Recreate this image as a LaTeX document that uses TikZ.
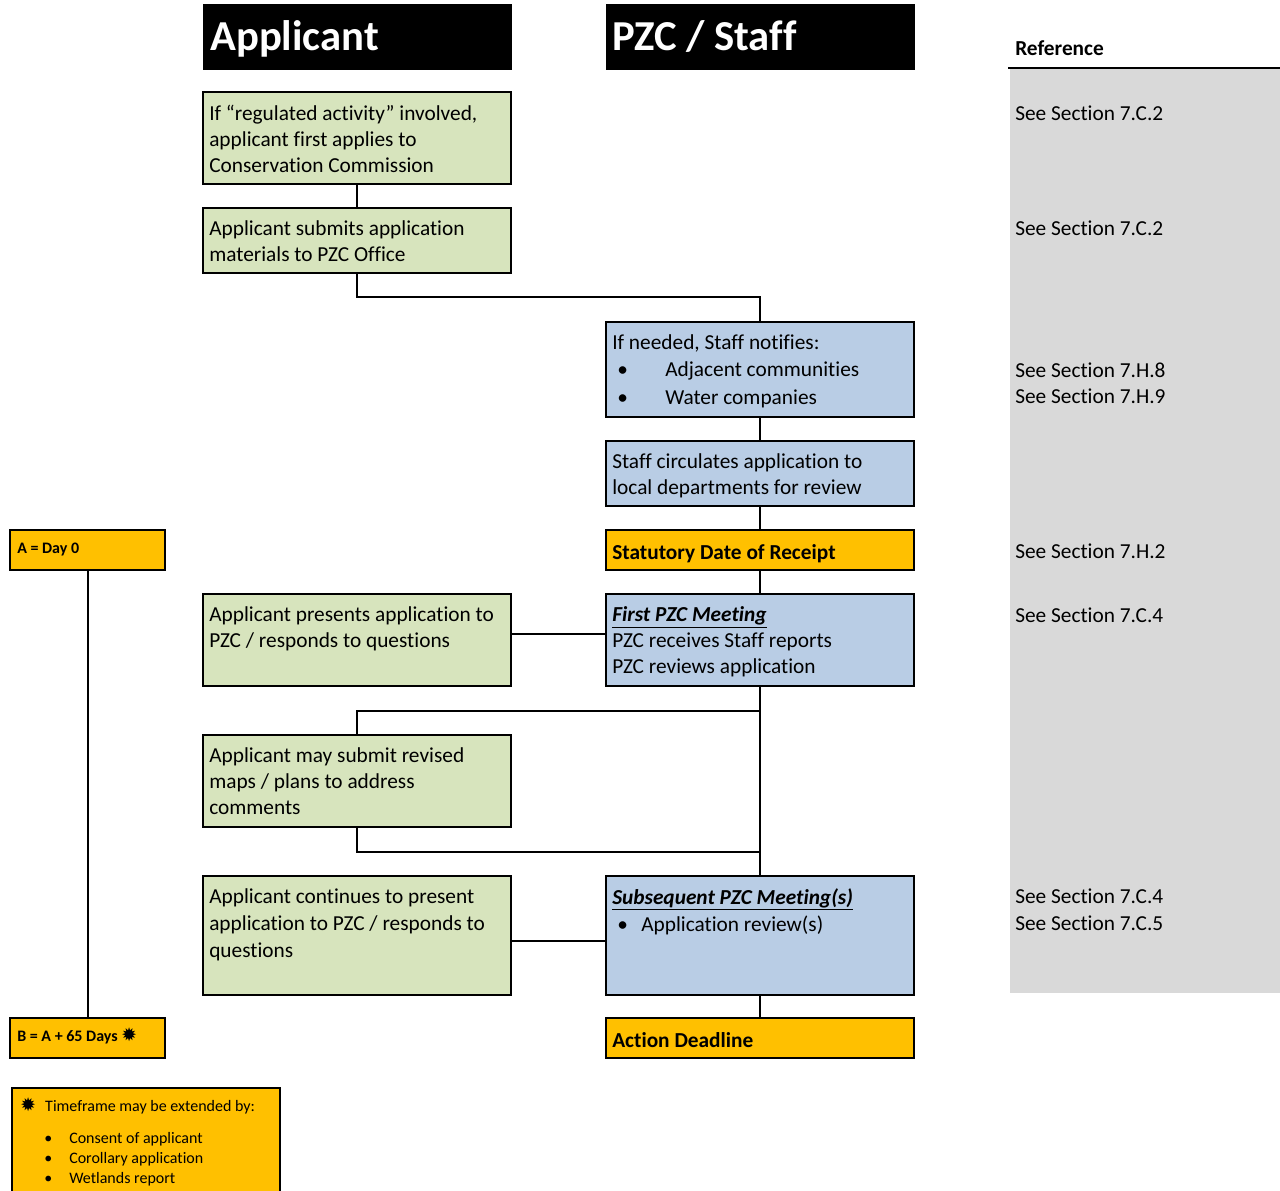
\documentclass[tikz,border=0pt]{standalone}
\usepackage{fontspec}
\setmainfont{Carlito}[Ligatures={NoCommon,NoRequired,NoContextual,NoRare},Contextuals={NoAlternate}]
\newfontfamily\symfont{DejaVu Sans}
\usetikzlibrary{calc}
\definecolor{gfill}{HTML}{D7E4BD}
\definecolor{bfill}{HTML}{B9CDE5}
\definecolor{ofill}{HTML}{FFC000}
\definecolor{rgray}{HTML}{D9D9D9}
\tikzset{
  conn/.style={draw=black, line width=1.5pt},
  sz/.style 2 args={minimum width=#1*0.75pt, minimum height=#2*0.75pt},
  boxbase/.style={draw=black, line width=1.5pt, anchor=north west, inner sep=0pt, outer sep=0pt},
  gbox/.style={boxbase, fill=gfill},
  bbox/.style={boxbase, fill=bfill},
  obox/.style={boxbase, fill=ofill},
  hdr/.style={anchor=north west, inner sep=0pt, outer sep=0pt, fill=black, draw=black},
  hdrtxt/.style={anchor=base west, inner sep=0pt, text=white, font=\fontsize{32}{36}\selectfont\bfseries},
  txt/.style={anchor=north west, inner sep=0pt, align=left, font=\fontsize{16}{19.5}\selectfont, execute at begin node=\strut},
  reftxt/.style={anchor=base west, inner sep=0pt, font=\fontsize{16}{19.5}\selectfont},
  smalltxt/.style={anchor=base west, inner sep=0pt, font=\fontsize{12}{15}\selectfont},
}
\newcommand\bul[2]{\hbox to #1{\hspace{#2}\textbullet\hfil}}
\newcommand\mystar{{\symfont\fontsize{14}{15}\selectfont ✹}}
\begin{document}
\begin{tikzpicture}[x=0.75pt,y=-0.75pt]
\useasboundingbox (0,0) rectangle (1280,1190);
% reference column
\fill[rgray] (1010,68) rectangle (1280,993);
\draw[line width=1.5pt] (1008,68) -- (1280,68);
\node[reftxt, font=\fontsize{16}{19.5}\selectfont\bfseries] (rh) at (1015,55) {Reference};
\node[reftxt] (r1) at (1015,120) {See Section 7.C.2};
\node[reftxt] (r2) at (1015,235) {See Section 7.C.2};
\node[reftxt] (r3) at (1015,377) {See Section 7.H.8};
\node[reftxt] (r4) at (1015,403) {See Section 7.H.9};
\node[reftxt] (r5) at (1015,558) {See Section 7.H.2};
\node[reftxt] (r6) at (1015,622) {See Section 7.C.4};
\node[reftxt] (r7) at (1015,903) {See Section 7.C.4};
\node[reftxt] (r8) at (1015,930) {See Section 7.C.5};
% headers
\node[hdr, sz={308}{65}] (ha) at (203,4) {};
\node[hdrtxt] (hat) at (210,50) {Applicant};
\node[hdr, sz={308}{65}] (hp) at (606,4) {};
\node[hdrtxt] (hpt) at (612,50) {PZC / Staff};
% boxes
\node[gbox, sz={308}{92}] (g1) at (203,92) {};
\node[gbox, sz={308}{65}] (g2) at (203,208) {};
\node[bbox, sz={308}{95}] (b1) at (606,322) {};
\node[bbox, sz={308}{65}] (b2) at (606,441) {};
\node[obox, sz={308}{40}] (o1) at (606,530) {};
\node[bbox, sz={308}{92}] (b3) at (606,594) {};
\node[gbox, sz={308}{92}] (g3) at (203,594) {};
\node[gbox, sz={308}{92}] (g4) at (203,735) {};
\node[gbox, sz={308}{119}] (g5) at (203,876) {};
\node[bbox, sz={308}{119}] (b4) at (606,876) {};
\node[obox, sz={308}{40}] (o2) at (606,1018) {};
\node[obox, sz={155}{40}] (ba) at (10,530) {};
\node[obox, sz={155}{40}] (bb) at (10,1018) {};
\node[obox, sz={268}{125}] (leg) at (12,1088) {};
% texts
\node[txt] (t1) at (209,104.5) {If “regulated activity” involved,\\applicant first applies to\\Conservation Commission};
\node[txt] (t2) at (209,220.5) {Applicant submits application\\materials to PZC Office};
\node[txt, font=\fontsize{16}{20.5}\selectfont] (t3) at (612,334.5) {If needed, Staff notifies:\\\bul{39.75pt}{3.75pt}Adjacent communities\\\bul{39.75pt}{3.75pt}Water companies};
\node[txt] (t4) at (612,453.5) {Staff circulates application to\\local departments for review};
\node[txt, font=\fontsize{16}{19.5}\selectfont\bfseries] (t5) at (612,541.5) {Statutory Date of Receipt};
\node[txt] (t6) at (612,606.5) {\textbf{\textit{\underline{First PZC Meeting}}}\\PZC receives Staff reports\\PZC reviews application};
\node[txt] (t7) at (209,606.5) {Applicant presents application to\\PZC / responds to questions};
\node[txt] (t8) at (209,747.5) {Applicant may submit revised\\maps / plans to address\\comments};
\node[txt, font=\fontsize{16}{20.5}\selectfont] (t9) at (209,888) {Applicant continues to present\\application to PZC / responds to\\questions};
\node[txt, font=\fontsize{16}{20.5}\selectfont] (t10) at (612,888) {\textbf{\textit{\underline{Subsequent PZC Meeting(s)}}}\\\bul{21.75pt}{3.75pt}Application review(s)};
\node[txt, font=\fontsize{16}{19.5}\selectfont\bfseries] (t11) at (612,1029.5) {Action Deadline};
\node[smalltxt, font=\fontsize{12}{15}\selectfont\bfseries] (ta) at (17,553) {A = Day 0};
\node[smalltxt, font=\fontsize{12}{15}\selectfont\bfseries] (tb) at (17,1041) {B = A + 65 Days \mystar};
\node[smalltxt] (l1) at (20,1111) {\mystar\hspace{7pt}Timeframe may be extended by:};
\node[smalltxt] (l2) at (44,1143) {\hbox to 18.75pt{\textbullet\hfil}Consent of applicant};
\node[smalltxt] (l3) at (44,1163) {\hbox to 18.75pt{\textbullet\hfil}Corollary application};
\node[smalltxt] (l4) at (44,1183) {\hbox to 18.75pt{\textbullet\hfil}Wetlands report};
% connectors
\draw[conn] (g1.south) -- (g2.north);
\draw[conn] (g2.south) -- ++(0,24) coordinate (c1) -| (b1.north);
\draw[conn] (b1.south) -- (b2.north);
\draw[conn] (b2.south) -- (o1.north);
\draw[conn] (o1.south) -- (b3.north);
\draw[conn] ($(g3.east)+(0,-6)$) -- ($(b3.west)+(0,-6)$);
\draw[conn] (b3.south) -- (b4.north);
\draw[conn] ($(b3.south)+(0,25)$) coordinate (c2) -| (g4.north);
\draw[conn] (g4.south) -- ++(0,25) coordinate (c3) -| (b4.north);
\draw[conn] ($(g5.east)+(0,5.5)$) -- ($(b4.west)+(0,5.5)$);
\draw[conn] (b4.south) -- (o2.north);
\draw[conn] (ba.south) -- (bb.north);
\end{tikzpicture}
\end{document}
